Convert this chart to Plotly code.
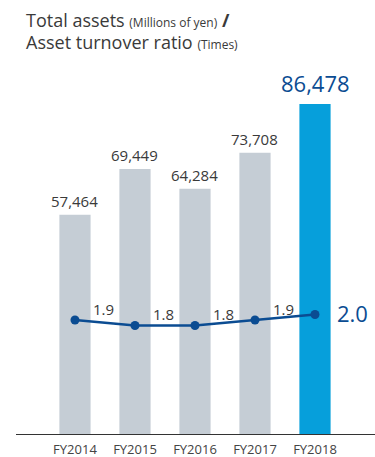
import plotly.graph_objects as go

# Data
years = ["FY2014", "FY2015", "FY2016", "FY2017", "FY2018"]
total_assets = [57464, 69449, 64284, 73708, 86478]
turnover = [1.9, 1.8, 1.8, 1.9, 2.0]

GRAY = "#c5cdd5"
CYAN = "#069fdb"
NAVY = "#0b4c92"
TEXT = "#3a3a3a"
FONT = "Open Sans"

x = list(range(len(years)))
bar_colors = [GRAY] * (len(years) - 1) + [CYAN]

fig = go.Figure()
fig.add_trace(go.Bar(
    x=x, y=total_assets, width=0.52,
    marker=dict(color=bar_colors, line=dict(width=0)),
    hoverinfo="skip", showlegend=False,
))
fig.add_trace(go.Scatter(
    x=x, y=turnover, yaxis="y2", mode="lines+markers",
    line=dict(color=NAVY, width=2.5),
    marker=dict(color=NAVY, size=9),
    hoverinfo="skip", showlegend=False,
))

annotations = []
# Bar value labels
for i, v in enumerate(total_assets):
    last = i == len(years) - 1
    annotations.append(dict(
        x=i, y=v, xref="x", yref="y", text=f"{v:,}",
        showarrow=False, yanchor="bottom", yshift=2 if not last else 4,
        font=dict(family=FONT, size=22 if last else 15,
                  color=NAVY if last else TEXT),
    ))
# Ratio labels
for i, v in enumerate(turnover):
    last = i == len(years) - 1
    annotations.append(dict(
        x=i, y=v, xref="x", yref="y2", text=f"{v:.1f}",
        showarrow=False,
        xanchor="left", yanchor="middle",
        xshift=20 if last else 16, yshift=1 if last else 11,
        font=dict(family=FONT, size=22 if last else 15,
                  color=NAVY if last else TEXT),
    ))
# Title
annotations.append(dict(
    x=24, y=20, xref="paper", yref="paper", xanchor="left", yanchor="middle",
    showarrow=False, text="Total assets <span style='font-size:12px'>(Millions of yen)</span> <b>/</b>",
    font=dict(family=FONT, size=18, color=TEXT),
))
annotations.append(dict(
    x=24, y=42, xref="paper", yref="paper", xanchor="left", yanchor="middle",
    showarrow=False, text="Asset turnover ratio <span style='font-size:12px'>(Times)</span>",
    font=dict(family=FONT, size=18, color=TEXT),
))
# place title annotations in pixel coordinates of the paper
H, W = 457, 375
T, B, L, R = 60, 23, 16, 0
ph = H - T - B
pw = W - L - R
for a in annotations[-2:]:
    a["x"] = (a["x"] - L) / pw
    a["y"] = (H - B - a["y"]) / ph

fig.update_layout(
    width=W, height=H,
    margin=dict(l=L, r=R, t=T, b=B),
    paper_bgcolor="white", plot_bgcolor="white",
    font=dict(family=FONT, color=TEXT),
    xaxis=dict(
        range=[-0.983, 5.0], tickmode="array", tickvals=x, ticktext=years,
        showline=True, linecolor="#333333", linewidth=1,
        showgrid=False, zeroline=False, ticks="", ticklabelstandoff=3,
        tickfont=dict(family=FONT, size=13, color="#444444"),
    ),
    yaxis=dict(range=[0, 98005], visible=False, showgrid=False),
    yaxis2=dict(range=[-0.173, 6.627], overlaying="y", visible=False,
                showgrid=False),
    annotations=annotations,
)

fig.write_html("out.html")
